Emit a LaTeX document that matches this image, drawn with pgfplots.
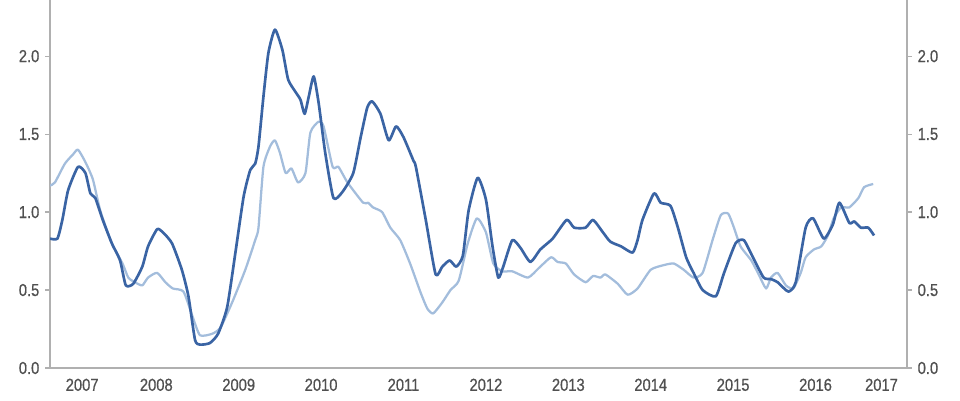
\documentclass[border=0pt]{standalone}
\usepackage{fontspec}
\setmainfont{Liberation Sans}
\newfontfamily\tickfont[FakeStretch=0.85,FakeBold=0.6]{Liberation Sans}
\usepackage{pgfplots}
\pgfplotsset{compat=1.18}
\definecolor{darkblue}{HTML}{3A64A4}
\definecolor{lightblue}{HTML}{A3BDDC}
\definecolor{spine}{HTML}{B0B0B0}
\definecolor{labgray}{HTML}{505050}
\begin{document}
\begin{tikzpicture}
\pgfplotsset{
  common/.style={
    width=642.75pt, height=276pt, scale only axis,
    xmin=2007.21, xmax=2017.61, ymin=0, ymax=2.36,
    axis line style={spine, line width=0.9pt},
    tick style={spine, line width=0.9pt},
    tick align=outside,
    ticklabel style={font=\tickfont\fontsize{13pt}{15pt}\selectfont, text=labgray},
    /pgf/number format/assume math mode=true,
    ytick={0,0.5,1,1.5,2},
    yticklabel style={/pgf/number format/fixed, /pgf/number format/fixed zerofill, /pgf/number format/precision=1},
    major tick length=3.5pt,
  }
}
\begin{axis}[common, name=ax,
  axis x line*=bottom, axis y line*=left,
  xtick={2007.6,2008.5,2009.5,2010.5,2011.5,2012.5,2013.5,2014.5,2015.5,2016.5,2017.3},
  xticklabels={2007,2008,2009,2010,2011,2012,2013,2014,2015,2016,2017},
  x tick style={draw=none},
  minor xtick={2008,2009,2010,2011,2012,2013,2014,2015,2016,2017},
  minor x tick style={spine, line width=0.9pt},
  minor tick length=3.5pt,
  xticklabel style={yshift=-1pt},
  yticklabel style={xshift=-1pt},
]
\addplot[lightblue, line width=1.7pt, line join=round, smooth, tension=0.35] coordinates {
(2007.21,1.17)(2007.27,1.19)(2007.39,1.31)(2007.49,1.37)(2007.55,1.40)(2007.64,1.32)
(2007.73,1.21)(2007.82,1.01)(2007.96,0.80)(2008.09,0.67)(2008.16,0.58)(2008.24,0.55)
(2008.33,0.53)(2008.40,0.58)(2008.51,0.61)(2008.61,0.55)(2008.70,0.51)(2008.83,0.49)
(2008.94,0.33)(2009.03,0.21)(2009.18,0.22)(2009.28,0.26)(2009.42,0.42)(2009.58,0.63)
(2009.70,0.82)(2009.74,0.90)(2009.80,1.29)(2009.88,1.42)(2009.94,1.46)(2010.00,1.38)
(2010.07,1.25)(2010.14,1.28)(2010.22,1.19)(2010.31,1.25)(2010.37,1.51)(2010.47,1.58)
(2010.53,1.55)(2010.64,1.29)(2010.71,1.29)(2010.82,1.19)(2011.01,1.06)(2011.07,1.06)
(2011.13,1.03)(2011.24,1.00)(2011.34,0.90)(2011.46,0.82)(2011.58,0.67)(2011.71,0.48)
(2011.79,0.38)(2011.86,0.35)(2011.97,0.42)(2012.07,0.50)(2012.17,0.56)(2012.28,0.80)
(2012.39,0.96)(2012.50,0.87)(2012.59,0.67)(2012.70,0.62)(2012.82,0.62)(2013.01,0.58)
(2013.14,0.64)(2013.29,0.71)(2013.37,0.68)(2013.47,0.67)(2013.57,0.60)(2013.71,0.55)
(2013.80,0.59)(2013.89,0.58)(2013.95,0.60)(2014.10,0.54)(2014.22,0.47)(2014.34,0.51)
(2014.50,0.63)(2014.66,0.66)(2014.78,0.67)(2014.90,0.63)(2015.02,0.58)(2015.13,0.61)
(2015.25,0.82)(2015.35,0.98)(2015.44,0.99)(2015.51,0.90)(2015.59,0.78)(2015.72,0.69)
(2015.81,0.60)(2015.90,0.51)(2015.96,0.58)(2016.04,0.61)(2016.14,0.53)(2016.23,0.51)
(2016.32,0.61)(2016.38,0.71)(2016.48,0.76)(2016.57,0.78)(2016.65,0.85)(2016.72,0.96)
(2016.81,1.03)(2016.91,1.03)(2017.02,1.09)(2017.09,1.16)(2017.20,1.18)
};
\addplot[darkblue, line width=2pt, line join=round, smooth, tension=0.35] coordinates {
(2007.21,0.83)(2007.30,0.83)(2007.36,0.95)(2007.43,1.14)(2007.55,1.29)(2007.64,1.25)
(2007.70,1.12)(2007.76,1.09)(2007.85,0.95)(2007.96,0.80)(2008.06,0.69)(2008.13,0.53)
(2008.22,0.54)(2008.33,0.65)(2008.40,0.78)(2008.51,0.89)(2008.58,0.87)(2008.69,0.80)
(2008.81,0.63)(2008.89,0.46)(2008.97,0.18)(2009.03,0.15)(2009.15,0.16)(2009.25,0.22)
(2009.36,0.39)(2009.46,0.74)(2009.56,1.10)(2009.64,1.27)(2009.70,1.31)(2009.74,1.42)
(2009.80,1.74)(2009.86,2.02)(2009.94,2.17)(2010.03,2.04)(2010.10,1.85)(2010.19,1.77)
(2010.25,1.72)(2010.30,1.63)(2010.35,1.74)(2010.41,1.87)(2010.47,1.70)(2010.55,1.38)
(2010.65,1.09)(2010.76,1.13)(2010.89,1.25)(2010.98,1.48)(2011.06,1.67)(2011.12,1.71)
(2011.22,1.63)(2011.32,1.46)(2011.41,1.55)(2011.50,1.48)(2011.62,1.33)(2011.65,1.29)
(2011.77,0.95)(2011.89,0.60)(2011.97,0.65)(2012.06,0.69)(2012.14,0.65)(2012.22,0.72)
(2012.29,1.01)(2012.40,1.22)(2012.50,1.08)(2012.58,0.78)(2012.65,0.58)(2012.71,0.65)
(2012.82,0.82)(2012.92,0.77)(2013.04,0.68)(2013.16,0.76)(2013.31,0.83)(2013.48,0.95)
(2013.57,0.90)(2013.71,0.90)(2013.80,0.95)(2013.92,0.87)(2014.01,0.81)(2014.14,0.78)
(2014.28,0.74)(2014.34,0.82)(2014.40,0.95)(2014.54,1.12)(2014.62,1.06)(2014.74,1.04)
(2014.83,0.90)(2014.93,0.71)(2015.02,0.61)(2015.13,0.50)(2015.29,0.46)(2015.39,0.61)
(2015.53,0.80)(2015.63,0.82)(2015.74,0.71)(2015.87,0.58)(2015.96,0.57)(2016.04,0.55)
(2016.17,0.49)(2016.26,0.55)(2016.38,0.90)(2016.47,0.96)(2016.60,0.83)(2016.71,0.92)
(2016.79,1.06)(2016.91,0.93)(2016.97,0.94)(2017.05,0.90)(2017.14,0.90)(2017.21,0.85)
};
\end{axis}
\begin{axis}[common, at={(ax.south west)}, anchor=south west,
  axis x line=none, axis y line*=right,
  xtick=\empty,
  yticklabel style={xshift=1pt},
]
\end{axis}
\pgfresetboundingbox
\path ([shift={(-37.5pt,-24pt)}]ax.south west) rectangle ([shift={(39.75pt,0pt)}]ax.north east);
\end{tikzpicture}
\end{document}
